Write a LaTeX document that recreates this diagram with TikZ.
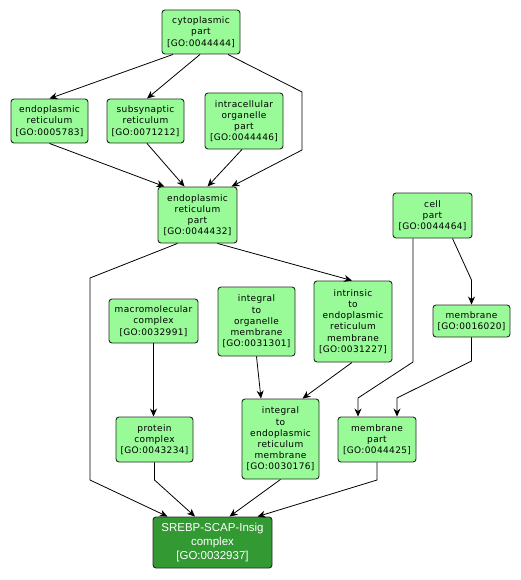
\documentclass[tikz,border=0pt]{standalone}
\usepackage{fontspec}
\setmainfont[LetterSpace=4]{DejaVu Sans}
\newfontfamily\bigfont{Liberation Sans}
\usetikzlibrary{arrows.meta}
\definecolor{boxfill}{RGB}{152,251,152}
\definecolor{darkfill}{RGB}{51,153,51}
\definecolor{boxline}{RGB}{35,45,35}
\tikzset{
  term/.style={draw=boxline, fill=boxfill, rounded corners=3pt, line width=0.9pt,
    align=center, inner sep=0pt, font=\fontsize{9}{11.2}\selectfont},
  focus/.style={term, fill=darkfill, text=white, font=\bigfont\fontsize{11.5}{14}\selectfont},
  arr/.style={draw=black, line width=0.8pt, -{Stealth[length=8pt,width=7pt]}},
}
\begin{document}
\begin{tikzpicture}[x=1pt,y=-1pt]
\fill[white] (0,0) rectangle (520,580);
\useasboundingbox (0,0) rectangle (520,580);

\node[term, minimum width=78pt, minimum height=44pt] (cp) at (201,32) {cytoplasmic\\part\\{[GO:0044444]}};
\node[term, minimum width=77pt, minimum height=44pt] (er) at (49.5,121) {endoplasmic\\reticulum\\{[GO:0005783]}};
\node[term, minimum width=77pt, minimum height=44pt] (ss) at (145.5,121) {subsynaptic\\reticulum\\{[GO:0071212]}};
\node[term, minimum width=78pt, minimum height=56pt] (ic) at (244,121) {intracellular\\organelle\\part\\{[GO:0044446]}};
\node[term, minimum width=79pt, minimum height=56pt] (erp) at (197.5,215) {endoplasmic\\reticulum\\part\\{[GO:0044432]}};
\node[term, minimum width=79pt, minimum height=45pt] (cell) at (432.5,215.5) {cell\\part\\{[GO:0044464]}};
\node[term, minimum width=77pt, minimum height=32pt] (mem) at (471.5,321) {membrane\\{[GO:0016020]}};
\node[term, minimum width=78pt, minimum height=81pt] (intr) at (353,321.5) {intrinsic\\to\\endoplasmic\\reticulum\\membrane\\{[GO:0031227]}};
\node[term, minimum width=77pt, minimum height=69pt] (io) at (256.5,321.5) {integral\\to\\organelle\\membrane\\{[GO:0031301]}};
\node[term, minimum width=89pt, minimum height=44pt] (mc) at (153.5,321) {macromolecular\\complex\\{[GO:0032991]}};
\node[term, minimum width=77pt, minimum height=45pt] (pc) at (154.5,439.5) {protein\\complex\\{[GO:0043234]}};
\node[term, minimum width=77pt, minimum height=80pt] (ier) at (280.5,439) {integral\\to\\endoplasmic\\reticulum\\membrane\\{[GO:0030176]}};
\node[term, minimum width=78pt, minimum height=45pt] (mp) at (377,439.5) {membrane\\part\\{[GO:0044425]}};
\node[focus, minimum width=119pt, minimum height=51pt] (sr) at (212.5,542.5) {SREBP-SCAP-Insig\\complex\\{[GO:0032937]}};

\coordinate (b1) at (302,92);
\coordinate (b2) at (302,150);
\coordinate (b3) at (90,278);
\coordinate (b4) at (90,480);
\coordinate (b5) at (471.5,280);
\coordinate (b6) at (413,362);
\coordinate (b7) at (358,398);
\coordinate (b8) at (471.5,361);
\coordinate (b9) at (397,398);
\coordinate (b10) at (154.5,480);
\coordinate (b11) at (377,480);

\draw[arr] ([xshift=-28pt]cp.south) -- (er.north);
\draw[arr] ([xshift=-1pt]cp.south) -- ([xshift=1.5pt]ss.north);
\draw[arr] ([xshift=27pt]cp.south) -- (b1) -- (b2) -- ([xshift=34pt]erp.north);
\draw[arr] (er.south) -- ([xshift=-33pt]erp.north);
\draw[arr] ([xshift=1.5pt]ss.south) -- ([xshift=-13pt]erp.north);
\draw[arr] ([xshift=-2pt]ic.south) -- ([xshift=10pt]erp.north);
\draw[arr] ([xshift=-20pt]erp.south) -- (b3) -- (b4) -- ([xshift=-45pt]sr.north);
\draw[arr] ([xshift=20pt]erp.south) -- ([xshift=-1pt]intr.north);
\draw[arr] ([xshift=20pt]cell.south) -- (b5) -- (mem.north);
\draw[arr] ([xshift=-19.5pt]cell.south) -- (b6) -- (b7) -- ([xshift=-19pt]mp.north);
\draw[arr] (mem.south) -- (b8) -- (b9) -- ([xshift=20pt]mp.north);
\draw[arr] (mc.south) -- (mc.south |- pc.north);
\draw[arr] (io.south) -- ([xshift=-19.5pt]ier.north);
\draw[arr] ([xshift=-1pt]intr.south) -- ([xshift=22pt]ier.north);
\draw[arr] (pc.south) -- (b10) -- ([xshift=-17.5pt]sr.north);
\draw[arr] (ier.south) -- ([xshift=17pt]sr.north);
\draw[arr] (mp.south) -- (b11) -- ([xshift=45pt]sr.north);
\end{tikzpicture}
\end{document}
